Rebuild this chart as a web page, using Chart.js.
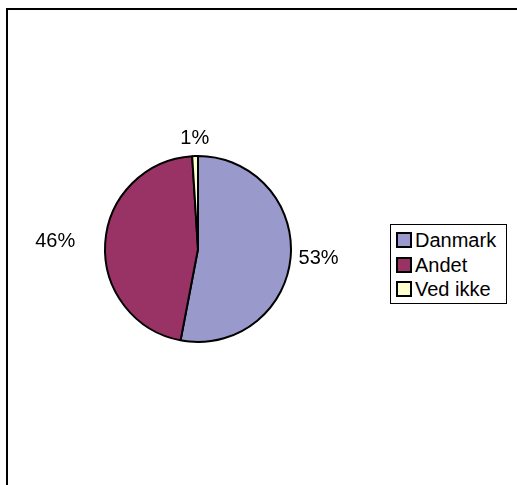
<!DOCTYPE html>
<html>
<head>
<meta charset="utf-8">
<script src="https://cdn.jsdelivr.net/npm/chart.js@4.4.0/dist/chart.umd.min.js"></script>
<style>
  html, body { margin: 0; padding: 0; background: #fff; }
  #wrap { position: relative; width: 517px; height: 485px; }
  #frame { position: absolute; left: 6px; top: 8px; width: 520px; height: 490px;
           border-top: 2px solid #000; border-left: 2px solid #000; }
  canvas { position: absolute; left: 0; top: 0; }
  #legend { position: absolute; left: 390px; top: 224px; width: 117px; height: 80px;
            border: 1px solid #000; background: #fff; box-sizing: border-box;
            font-family: Arial, "Liberation Sans", sans-serif; font-size: 20px; color: #000;
            padding: 3px 0 0 5px; }
  #legend div { height: 24.5px; line-height: 24.5px; white-space: nowrap; }
  #legend span.box { display: inline-block; width: 12px; height: 12px; border: 2px solid #000;
                     margin-right: 3px; vertical-align: -1px; }
</style>
</head>
<body>
<div id="wrap">
  <div id="frame"></div>
  <canvas id="pie" width="517" height="485"></canvas>
  <div id="legend"></div>
</div>
<script>
const categories = ['Danmark', 'Andet', 'Ved ikke'];
const shares = [53, 46, 1];
const labels = ['53%', '46%', '1%'];
const colors = ['#9999cc', '#993366', '#ffffcc'];

document.addEventListener('DOMContentLoaded', () => {
    // legend box
    const legend = document.getElementById('legend');
    categories.forEach((c, i) => {
        const row = document.createElement('div');
        row.innerHTML = `<span class="box" style="background:${colors[i]}"></span>${c}`;
        legend.appendChild(row);
    });

    // percent labels outside each slice
    const outsideLabels = {
        id: 'outsideLabels',
        afterDatasetsDraw(chart) {
            const ctx = chart.ctx;
            const meta = chart.getDatasetMeta(0);
            ctx.save();
            ctx.font = '20px Arial, "Liberation Sans", sans-serif';
            ctx.fillStyle = '#000';
            meta.data.forEach((arc, i) => {
                const mid = (arc.startAngle + arc.endAngle) / 2;
                const c = Math.cos(mid), s = Math.sin(mid);
                // left side labels sit further out, like the original
                const r = arc.outerRadius + (c < -0.3 ? 30 : 8);
                const x = arc.x + c * r;
                const y = arc.y + s * r;
                if (c > 0.3) ctx.textAlign = 'left';
                else if (c < -0.3) ctx.textAlign = 'right';
                else ctx.textAlign = 'center';
                ctx.textBaseline = s < -0.7 ? 'bottom' : 'middle';
                ctx.fillText(labels[i], x, y);
            });
            ctx.restore();
        }
    };

    new Chart(document.getElementById('pie'), {
        type: 'pie',
        data: {
            labels: categories,
            datasets: [{
                data: shares,
                backgroundColor: colors,
                borderColor: '#000',
                borderWidth: 2
            }]
        },
        options: {
            responsive: false,
            animation: false,
            layout: { padding: { left: 104, right: 225, top: 155, bottom: 142 } },
            plugins: {
                legend: { display: false },
                tooltip: { enabled: false }
            }
        },
        plugins: [outsideLabels]
    });
});
</script>
</body>
</html>
